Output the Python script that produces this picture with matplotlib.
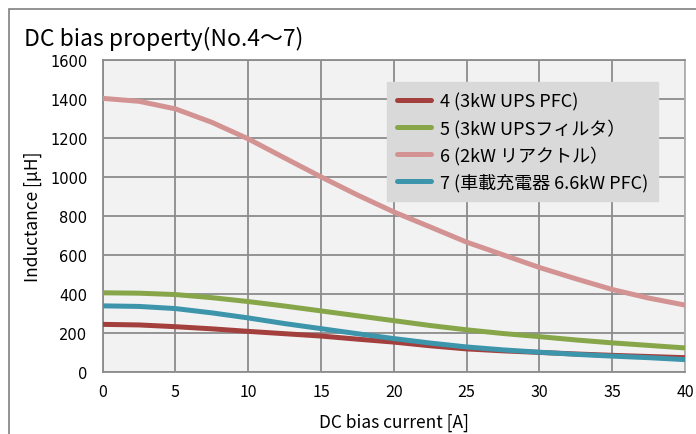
import matplotlib
matplotlib.use("Agg")
import matplotlib.pyplot as plt
from matplotlib.patches import Rectangle

plt.rcParams['font.family'] = ['Noto Sans CJK JP', 'DejaVu Sans']

current = [0, 2.5, 5, 7.5, 10, 12.5, 15, 17.5, 20, 22.5, 25, 27.5, 30, 32.5, 35, 37.5, 40]

no4 = [243, 240, 231, 220, 207, 195, 183, 167, 152, 133, 117, 107, 99, 91, 84, 78, 72]
no5 = [405, 403, 396, 380, 360, 337, 312, 287, 262, 237, 215, 196, 180, 163, 148, 135, 122]
no6 = [1403, 1388, 1349, 1280, 1195, 1097, 1000, 907, 820, 743, 665, 600, 535, 477, 422, 378, 342]
no7 = [338, 335, 324, 302, 276, 247, 221, 195, 170, 147, 127, 112, 100, 89, 80, 72, 62]

labels = ["4 (3kW UPS PFC)", "5 (3kW UPSフィルタ）", "6 (2kW リアクトル）", "7 (車載充電器 6.6kW PFC)"]
colors = ['#a3403d', '#87a64a', '#d49393', '#3d95ab']

xticks = [0, 5, 10, 15, 20, 25, 30, 35, 40]
yticks = [0, 200, 400, 600, 800, 1000, 1200, 1400, 1600]

fig = plt.figure(figsize=(6.96, 4.35), dpi=100)
fig.patch.set_facecolor('white')

# outer frame, runs off the right and bottom edges
fig.patches.append(Rectangle((9 / 696, -0.1), 1.2, 1.1 - 10 / 435,
                             transform=fig.transFigure, fill=False,
                             edgecolor='#808080', linewidth=1.2))

ax = fig.add_axes([102.7 / 696, 1 - 372.7 / 435, (685 - 102.7) / 696, (372.7 - 61) / 435])
ax.set_facecolor('#f2f2f2')

for ys, c, lab in zip([no4, no5, no6, no7], colors, labels):
    ax.plot(current, ys, color=c, linewidth=3.6, label=lab, solid_capstyle='butt', zorder=3)

ax.set_xlim(0, 40)
ax.set_ylim(0, 1600)
ax.set_xticks(xticks)
ax.set_yticks(yticks)
ax.set_xticklabels([str(v) for v in xticks], fontsize=11.5)
ax.set_yticklabels([str(v) for v in yticks], fontsize=10.5, family='DejaVu Sans')
ax.tick_params(length=0)
ax.tick_params(axis='y', pad=11)
ax.tick_params(axis='x', pad=8)
ax.grid(True, color='#8c8c8c', linewidth=1.3, zorder=1)
ax.set_axisbelow(True)
for s in ax.spines.values():
    s.set_color('#8c8c8c')
    s.set_linewidth(1.3)
ax.spines['right'].set_color('#b0b0b0')

ax.set_xlabel("DC bias current [A]", fontsize=12.5, labelpad=9)
ax.set_ylabel("Inductance [μH]", fontsize=12.5, labelpad=6)

fig.text(24 / 696, 1 - 46 / 435, "DC bias property(No.4～7)", fontsize=16.5)

leg = ax.legend(loc='upper left', bbox_to_anchor=(387 / 696, 1 - 83 / 435),
                bbox_transform=fig.transFigure, fontsize=13, frameon=True,
                fancybox=False, handlelength=1.9, handletextpad=0.5,
                labelspacing=0.45, borderpad=0.55, borderaxespad=0)
leg.get_frame().set_facecolor('#d9d9d9')
leg.get_frame().set_edgecolor('#d9d9d9')
leg.get_frame().set_alpha(1)
for line in leg.get_lines():
    line.set_linewidth(3.6)
    line.set_solid_capstyle('round')

fig.savefig("out.png", dpi=100)
